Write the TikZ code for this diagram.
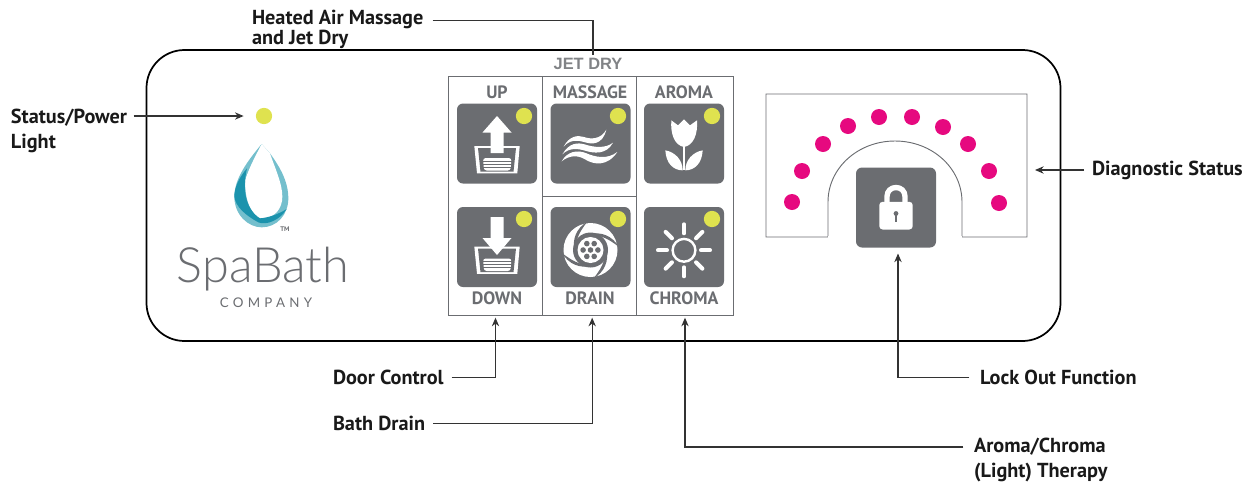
\documentclass[tikz,border=0pt]{standalone}
\usepackage{fontspec}
\setmainfont{PT Sans}
\newfontfamily\logofont{Lato}[UprightFont=* Light]
\newfontfamily\companyfont{Lato}[LetterSpace=32]
\newfontfamily\jetfont{Liberation Sans}
\usetikzlibrary{arrows.meta}

\definecolor{btngray}{HTML}{6B6D71}
\definecolor{ledyellow}{HTML}{DFE24F}
\definecolor{dotpink}{HTML}{E6097F}
\definecolor{dropdark}{HTML}{1B93AD}
\definecolor{droplight}{HTML}{74BFCD}

% tub shared by the up and down icons
\tikzset{
    tubicon/.pic={
        \fill[white] (-22.7,2.5) -- (22.7,2.5) -- (20.3,29.8) -- (-20,29.8) -- cycle;
        \fill[btngray] (-19,4.5) -- (19,4.5) -- (16.5,28.2) -- (-16.5,28.2) -- cycle;
        \fill[white, rounded corners=2pt] (-14,14.5) -- (14.5,14.5) -- (13.5,27) -- (-13,27) -- cycle;
        \foreach \yy in {17.5,20.5,23.5}
            \draw[btngray, line width=.45pt] (-14,\yy) -- (14.5,\yy);
    },
    waveicon/.pic={
        \begin{scope}[shift={(-41.5,-41.5)}, scale=1/3]
            \fill[white] (44,134) .. controls (60,103) and (85,98) .. (105,105) .. controls (125,112) and (155,113) .. (172,83)
                .. controls (160,129) and (130,128) .. (105,120) .. controls (85,113) and (60,114) .. (44,134) -- cycle;
            \fill[white] (40,157) .. controls (60,123) and (85,120) .. (110,128) .. controls (135,136) and (170,140) .. (192,122)
                .. controls (172,159) and (135,154) .. (108,146) .. controls (85,139) and (60,137) .. (40,157) -- cycle;
            \fill[white] (38,178) .. controls (55,148) and (85,143) .. (110,153) .. controls (140,166) and (175,173) .. (205,150)
                .. controls (175,194) and (135,189) .. (108,172) .. controls (85,158) and (60,160) .. (38,178) -- cycle;
        \end{scope}
    },
    tulipicon/.pic={
        \begin{scope}[shift={(-42,-41.5)}, scale=1/3]
            \fill[white] (88,55) -- (108,70) -- (126,52) -- (144,70) -- (165,55)
                .. controls (168,95) and (155,130) .. (126,135) .. controls (97,130) and (85,95) .. (88,55) -- cycle;
            \fill[white] (123,130) rectangle (129,205);
            \fill[white] (70,145) .. controls (72,185) and (95,205) .. (122,205) .. controls (122,175) and (100,150) .. (70,145) -- cycle;
            \fill[white] (182,145) .. controls (180,185) and (157,205) .. (130,205) .. controls (130,175) and (152,150) .. (182,145) -- cycle;
        \end{scope}
    },
    drainicon/.pic={
        \begin{scope}[shift={(0,3)}]
            \fill[white] (0,0) circle[radius=27];
            \fill[btngray] (0,0) circle[radius=17.5];
            \foreach \aa in {0,90,180,270} {
                \fill[btngray] (\aa:16) .. controls (\aa+30:21) and (\aa+55:26) .. (\aa+85:29)
                    .. controls (\aa+50:21) and (\aa+20:17) .. (\aa-15:15) -- cycle;
            }
            \fill[white] (0,0) circle[radius=13];
            \fill[btngray] (0,0) circle[radius=2.8];
            \foreach \aa in {0,60,...,300}
                \fill[btngray] (\aa:7.4) circle[radius=2.8];
        \end{scope}
    },
    sunicon/.pic={
        \begin{scope}[shift={(0,3.3)}]
            \draw[white, line width=1.8pt] (0,0) circle[radius=11.4];
            \foreach \aa in {0,45,...,315}
                \draw[white, line width=3pt, line cap=round] (\aa:17) -- (\aa:26);
        \end{scope}
    },
    lockicon/.pic={
        \draw[white, line width=4pt] (-9,-5) -- (-9,-11) .. controls (-9,-16.5) and (-5,-20) .. (0,-20)
            .. controls (5,-20) and (9,-16.5) .. (9,-11) -- (9,-5);
        \fill[white, rounded corners=2.5pt] (-16.7,-5.7) rectangle (16.7,22);
        \fill[btngray] (0,6) circle[radius=2.4];
        \draw[btngray, line width=1.1pt] (0,6) -- (0,14);
    }
}

\begin{document}
\begin{tikzpicture}[
    x=.75pt, y=-.75pt,
    font=\fontsize{15.2}{18.75}\selectfont\bfseries,
    lbl/.style={inner sep=0pt, outer sep=0pt, anchor=west, align=left, text=black!90},
    cell/.style={draw=btngray, line width=.7pt, inner sep=0pt, outer sep=0pt},
    btn/.style={fill=btngray, rounded corners=4.5pt, minimum size=60pt, inner sep=0pt, outer sep=0pt},
    led/.style={circle, fill=ledyellow, minimum size=12.2pt, inner sep=0pt},
    pinkdot/.style={circle, fill=dotpink, minimum size=12pt, inner sep=0pt},
    btncaption/.style={text=btngray, inner sep=0pt, font=\fontsize{13.4}{14}\selectfont\bfseries},
    conn/.style={draw=black!80, line width=.8pt},
    tipped/.style={conn, -{Stealth[length=6.5pt, width=5.5pt]}}
]
    \useasboundingbox (0,0) rectangle (1253,483);

    % --- Outer panel ---
    \node[draw=black, line width=1.3pt, rounded corners=28.5pt, minimum width=685.5pt, minimum height=218.25pt, inner sep=0pt] (panel) at (603.5,195.5) {};

    % --- Status light and logo ---
    \node[led] (powerled) at (264,116) {};
    \begin{scope}[shift={(225,135)}, scale=1/3]
        \fill[droplight] (110,27) .. controls (70,75) and (28,130) .. (28,185) .. controls (28,240) and (70,277) .. (110,277)
            .. controls (155,277) and (190,240) .. (190,190) .. controls (190,135) and (160,90) .. (135,55) -- cycle;
        \fill[white] (110,27) .. controls (85,75) and (52,135) .. (52,185) .. controls (52,225) and (80,250) .. (110,250)
            .. controls (150,250) and (172,220) .. (172,185) .. controls (172,145) and (150,100) .. (135,55) -- cycle;
        \fill[droplight] (62,110) .. controls (50,150) and (45,210) .. (100,250) .. controls (70,225) and (55,180) .. (62,110) -- cycle;
        \fill[dropdark] (66,100) .. controls (40,130) and (28,160) .. (28,185) .. controls (32,215) and (60,240) .. (100,262)
            .. controls (125,272) and (165,255) .. (185,222)
            .. controls (160,238) and (130,248) .. (105,250) .. controls (65,225) and (50,170) .. (66,100) -- cycle;
    \end{scope}
    \node[inner sep=0pt, font=\fontsize{5}{5}\selectfont\bfseries, text=btngray] (tmmark) at (285,229) {TM};
    \node[inner sep=0pt, anchor=base, font=\logofont\fontsize{36.5}{36.5}\selectfont, text=btngray] (logoname) at (263,282) {SpaBath};
    \node[inner sep=0pt, font=\companyfont\fontsize{10}{10}\selectfont, text=btngray] (logosub) at (266,303) {COMPANY};

    % --- Button grid ---
    \node[cell, minimum width=70.5pt, minimum height=179.25pt] (celldoor) at (495.5,195.5) {};
    \node[cell, minimum width=70.5pt, minimum height=90pt] (cellmassage) at (589.5,136) {};
    \node[cell, minimum width=70.5pt, minimum height=89.25pt] (celldrain) at (589.5,255.5) {};
    \node[cell, minimum width=72.75pt, minimum height=179.25pt] (celltherapy) at (685,195.5) {};
    \node[inner sep=0pt, font=\jetfont\fontsize{12.3}{12}\selectfont\bfseries, text=btngray!85] (jetdry) at (588,64) {JET DRY};

    % --- Buttons ---
    \node[btn] (btnup) at (497,143.5) {};
    \node[btn] (btnmassage) at (590.5,143.5) {};
    \node[btn] (btnaroma) at (684,143.5) {};
    \node[btn] (btndown) at (497,247) {};
    \node[btn] (btndrain) at (590.5,247) {};
    \node[btn] (btnchroma) at (684,247) {};

    % --- Icons ---
    \pic at (btnup) {tubicon};
    \fill[white] (497,116) -- (511.5,132.5) -- (503.5,132.5) -- (503.5,153) -- (490.5,153) -- (490.5,132.5) -- (482.5,132.5) -- cycle;
    \pic at ([yshift=2.25pt]btndown) {tubicon};
    \fill[white] (490.5,217) -- (503.5,217) -- (503.5,238) -- (511.5,238) -- (497,255) -- (482.5,238) -- (490.5,238) -- cycle;
    \pic at (btnmassage) {waveicon};
    \pic at (btnaroma) {tulipicon};
    \pic at (btndrain) {drainicon};
    \pic at (btnchroma) {sunicon};

    % --- Button lights ---
    \node[led] (ledup) at (524,116) {};
    \node[led] (ledmassage) at (618,116) {};
    \node[led] (ledaroma) at (712,116) {};
    \node[led] (leddown) at (524,219) {};
    \node[led] (leddrain) at (618,219) {};
    \node[led] (ledchroma) at (712,219) {};

    % --- Button captions ---
    \begin{scope}[every node/.style={btncaption}]
        \node (capup) at (497,92) {UP};
        \node (capmassage) at (590,92) {MASSAGE};
        \node (caparoma) at (684,92) {AROMA};
        \node (capdown) at (497,298) {DOWN};
        \node (capdrain) at (590,298) {DRAIN};
        \node (capchroma) at (684,298) {CHROMA};
    \end{scope}

    % --- Diagnostic box ---
    \draw[draw=btngray, line width=.7pt] (828,237) -- (766,237) -- (766,94) -- (1027,94) -- (1027,237) -- (962,237) -- (962,202)
        .. controls (962,168) and (932,141) .. (895,141) .. controls (858,141) and (828,168) .. (828,202) -- cycle;
    \coordinate (diagedge) at (1027,170);
    \foreach \nn/\xx/\yy in {1/792/202, 2/802/171, 3/823/144, 4/848/126, 5/879/117, 6/912/117, 7/943/127, 8/968/144, 9/989/171, 10/999/203}
        \node[pinkdot] (dot\nn) at (\xx,\yy) {};
    \fill[white] (828.4,236) rectangle (961.6,238);
    \node[btn] (btnlock) at (896,207.5) {};
    \pic at (btnlock) {lockicon};

    % --- Callouts ---
    \node[lbl] (status) at (11,130.5) {Status/Power\\Light};
    \node[lbl, font=\fontsize{15.2}{12.75}\selectfont\bfseries] (heated) at (252,29.5) {Heated Air Massage\\and Jet Dry};
    \node[lbl] (door) at (333,377.5) {Door Control};
    \node[lbl] (drainlbl) at (333,423.5) {Bath Drain};
    \node[lbl] (therapy) at (974,460) {Aroma/Chroma\\(Light) Therapy};
    \node[lbl] (lockout) at (980,377.5) {Lock Out Function};
    \node[lbl] (diagstatus) at (1092,170) {Diagnostic Status};
    \coordinate (jetend) at (593,55);

    \draw[tipped, shorten <=5pt, shorten >=9pt] (status.east |- powerled) -- (powerled);
    \draw[conn] ([xshift=7pt, yshift=6.9pt]heated.east) -| (jetend);
    \draw[tipped, shorten <=6pt, shorten >=2pt] (door.east) -| (celldoor.south);
    \draw[tipped, shorten <=6pt, shorten >=2pt] (drainlbl.east) -| ([xshift=2pt]celldrain.south);
    \draw[tipped, shorten <=8pt, shorten >=2pt] ([yshift=9.75pt]therapy.west) -| (celltherapy.south);
    \draw[tipped, shorten <=8pt, shorten >=4.5pt] (lockout.west) -| ([xshift=1.5pt]btnlock.south);
    \draw[tipped, shorten <=6pt, shorten >=6pt] (diagstatus.west) -- (diagedge);

\end{tikzpicture}
\end{document}
